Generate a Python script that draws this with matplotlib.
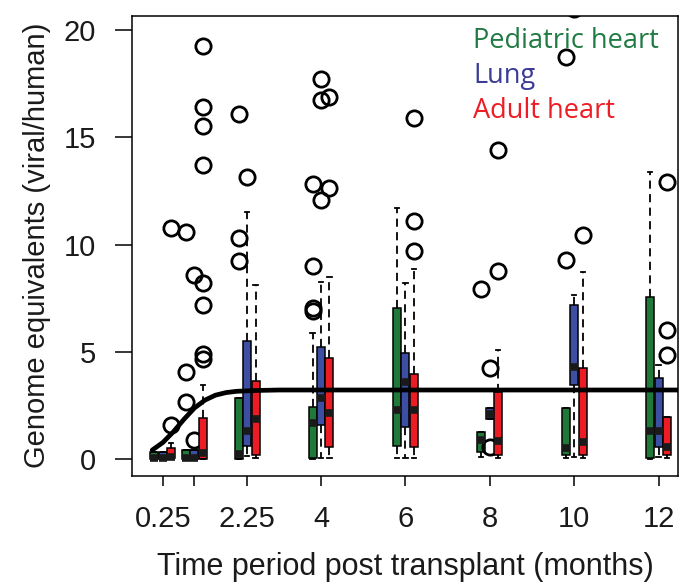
import matplotlib
matplotlib.use("Agg")
import matplotlib.pyplot as plt

# time points (months) on the x axis; the 1-month tick has no label
TIMES = [0.25, 1, 2.25, 4, 6, 8, 10, 12]
TICK_LABELS = ["0.25", "", "2.25", "4", "6", "8", "10", "12"]
Y_TICKS = [0, 5, 10, 15, 20]

TISSUES = ["Pediatric heart", "Lung", "Adult heart"]

# box stats per time point: (whislo, q1, med, q3, whishi)
PEDIATRIC_STATS = [
    (0.0, 0.0, 0.05, 0.35, 0.35),
    (0.0, 0.0, 0.05, 0.4, 0.4),
    (0.0, 0.0, 0.25, 2.87, 2.87),
    (0.0, 0.05, 1.7, 2.44, 5.87),
    (0.05, 0.6, 2.28, 7.05, 11.7),
    (0.1, 0.34, 0.9, 1.27, 1.27),
    (0.05, 0.19, 0.5, 2.36, 2.36),
    (0.0, 0.03, 1.3, 7.57, 13.4),
]
PEDIATRIC_FLIERS = [
    [],
    [2.67, 4.07, 10.6],
    [9.25, 10.29, 16.08],
    [6.9, 7.05, 9.0, 12.82],
    [],
    [7.93],
    [9.28, 18.75],
    [],
]

LUNG_STATS = [
    (0.0, 0.0, 0.05, 0.35, 0.35),
    (0.0, 0.0, 0.05, 0.4, 0.4),
    (0.15, 0.6, 1.3, 5.52, 11.53),
    (0.05, 1.58, 2.84, 5.24, 8.27),
    (0.05, 1.5, 3.6, 4.96, 8.2),
    (1.85, 1.85, 2.1, 2.4, 2.4),
    (0.1, 3.45, 4.3, 7.2, 7.65),
    (0.1, 0.57, 1.3, 3.76, 4.38),
]
LUNG_FLIERS = [
    [],
    [0.89, 8.58],
    [13.13],
    [12.1, 16.74, 17.7],
    [],
    [0.57, 4.23],
    [21.0],
    [],
]

ADULT_STATS = [
    (0.0, 0.05, 0.1, 0.5, 0.75),
    (0.0, 0.0, 0.3, 1.9, 3.45),
    (0.05, 0.19, 1.85, 3.64, 8.1),
    (0.05, 0.57, 2.14, 4.7, 8.5),
    (0.05, 0.57, 2.28, 3.96, 8.86),
    (0.05, 0.19, 0.85, 3.14, 5.08),
    (0.05, 0.19, 0.8, 4.23, 8.73),
    (0.05, 0.19, 0.55, 1.97, 1.97),
]
ADULT_FLIERS = [
    [1.6, 10.76],
    [4.65, 4.9, 7.18, 8.19, 13.7, 15.52, 16.4, 19.25],
    [],
    [12.62, 16.86],
    [9.7, 11.1, 15.88],
    [8.76, 14.4],
    [10.44],
    [4.85, 6.0, 12.9],
]

# fitted trend line
CURVE_T = [0, 0.25, 0.5, 0.75, 1.0, 1.25, 1.5, 1.75, 2.0, 2.5, 3.0, 12.46]
CURVE_Y = [0.42, 0.77, 1.27, 1.85, 2.38, 2.75, 2.98, 3.1, 3.16, 3.2, 3.22, 3.22]

BOX_COLORS = ["#1f7a3a", "#3d4fa3", "#ec1c24"]
TEXT_COLORS = ["#1f7a43", "#3b3b98", "#ee1c24"]
OFFSETS = [-0.2, 0.0, 0.2]


def make_stats(stats, fliers):
    out = []
    for (lo, q1, med, q3, hi), fl in zip(stats, fliers):
        out.append(dict(whislo=lo, q1=q1, med=med, q3=q3, whishi=hi, fliers=fl))
    return out


def main():
    fig = plt.figure(figsize=(6.9, 5.83), dpi=100)
    ax = fig.add_axes([0.192, 0.1835, 0.7906, 0.7899])

    groups = [
        (PEDIATRIC_STATS, PEDIATRIC_FLIERS),
        (LUNG_STATS, LUNG_FLIERS),
        (ADULT_STATS, ADULT_FLIERS),
    ]

    for (stats, fliers), color, off in zip(groups, BOX_COLORS, OFFSETS):
        ax.bxp(
            make_stats(stats, fliers),
            positions=[t + off for t in TIMES],
            widths=0.19,
            capwidths=0.1,
            patch_artist=True,
            manage_ticks=False,
            boxprops=dict(facecolor=color, edgecolor="black", linewidth=1.1),
            medianprops=dict(color="#1a1a1a", linewidth=5.5, solid_capstyle="butt"),
            whiskerprops=dict(color="black", linewidth=1.3, linestyle=(0, (4.5, 3))),
            capprops=dict(color="black", linewidth=1.3),
            flierprops=dict(marker="o", markerfacecolor="none", markeredgecolor="black",
                            markersize=11, markeredgewidth=2.0),
        )

    ax.plot(CURVE_T, CURVE_Y, color="black", linewidth=3.4, zorder=5,
            solid_capstyle="round")

    ax.set_xlim(-0.468, 12.46)
    ax.set_ylim(-0.79, 20.68)

    ax.set_xticks(TIMES)
    ax.set_xticklabels(TICK_LABELS)
    ax.set_yticks(Y_TICKS)
    ax.set_yticklabels([str(v) for v in Y_TICKS])

    for lab in ax.get_xticklabels() + ax.get_yticklabels():
        lab.set_fontfamily("Liberation Sans")
        lab.set_fontsize(21)
        lab.set_color("#1a1a1a")

    ax.tick_params(axis="y", length=12, width=1.1, pad=14)
    ax.tick_params(axis="x", length=7, width=1.1, pad=14)

    for sp in ax.spines.values():
        sp.set_linewidth(1.1)
        sp.set_color("black")

    fig.text(405.3 / 690, 1 - 575.5 / 583, "Time period post transplant (months)",
             ha="center", va="baseline", fontsize=22, family="Liberation Sans",
             color="#1a1a1a")
    fig.text(36.7 / 690, 1 - 245.8 / 583, "Genome equivalents (viral/human)",
             ha="center", va="center", rotation=90, fontsize=21,
             family="Liberation Sans", color="#1a1a1a")

    ys = [0.929, 0.853, 0.777]
    for name, col, y in zip(TISSUES, TEXT_COLORS, ys):
        ax.text(0.624, y, name, transform=ax.transAxes, color=col,
                fontsize=19.5, family="Open Sans", va="baseline", ha="left")

    fig.savefig("out.png", dpi=100)
    plt.close(fig)


if __name__ == "__main__":
    main()
